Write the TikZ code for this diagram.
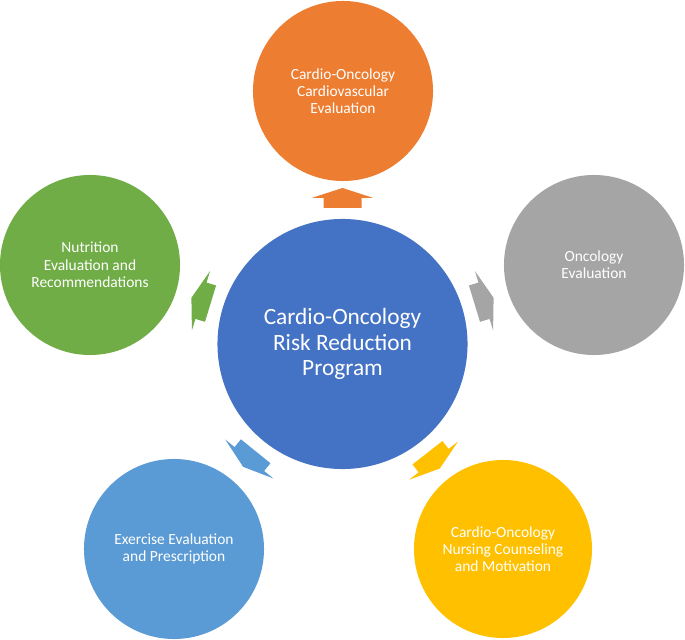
\documentclass[tikz,border=0pt]{standalone}
\usepackage{fontspec}
\setmainfont{Carlito}
\usepackage{tikz}

\definecolor{hubblue}{HTML}{4472C4}
\definecolor{cvorange}{HTML}{ED7D31}
\definecolor{oncgray}{HTML}{A5A5A5}
\definecolor{nursegold}{HTML}{FFC000}
\definecolor{exblue}{HTML}{5B9BD5}
\definecolor{nutgreen}{HTML}{70AD47}

\begin{document}
\begin{tikzpicture}[x=0.025cm, y=0.025cm,
  every node/.style={circle, inner sep=0pt, outer sep=0pt, text=white, align=center},
  hubdisc/.style={minimum size=6.25cm, font=\fontsize{16.6}{18.2}\selectfont},
  petal/.style={minimum size=4.5cm, font=\fontsize{11}{12.3}\selectfont}]
\useasboundingbox (0,0) rectangle (685,639);

\node[hubdisc, fill=hubblue] (hub) at (342.5,295) {Cardio-Oncology\\Risk Reduction\\Program};

\node[petal, fill=cvorange] (cardio) at (343,548) {Cardio-Oncology\\Cardiovascular\\Evaluation};
\node[petal, fill=oncgray] (oncology) at (594,374) {Oncology\\Evaluation};
\node[petal, fill=nursegold, minimum size=4.45cm] (nursing) at (503,90) {Cardio-Oncology\\Nursing Counseling\\and Motivation};
\node[petal, fill=exblue] (exercise) at (174,90) {Exercise Evaluation\\and Prescription};
\node[petal, fill=nutgreen] (nutrition) at (90,374) {Nutrition\\Evaluation and\\Recommendations};

% block arrows from the hub towards each circle
\fill[cvorange, shift={(hub.center)}, rotate=90] (136,-19) -- (146,-19) -- (146,-31) -- (156,0) -- (146,31) -- (146,19) -- (136,19) -- cycle;
\fill[oncgray, shift={(hub.center)}, rotate=17] (138,-19) -- (148,-19) -- (148,-31) -- (158,0) -- (148,31) -- (148,19) -- (138,19) -- cycle;
\fill[nursegold, shift={(hub.center)}, rotate=-52] (138,-19) -- (148,-19) -- (148,-31) -- (158,0) -- (148,31) -- (148,19) -- (138,19) -- cycle;
\fill[exblue, shift={(hub.center)}, rotate=-129] (138,-19) -- (148,-19) -- (148,-31) -- (158,0) -- (148,31) -- (148,19) -- (138,19) -- cycle;
\fill[nutgreen, shift={(hub.center)}, rotate=163] (138,-19) -- (148,-19) -- (148,-31) -- (158,0) -- (148,31) -- (148,19) -- (138,19) -- cycle;
\end{tikzpicture}
\end{document}
